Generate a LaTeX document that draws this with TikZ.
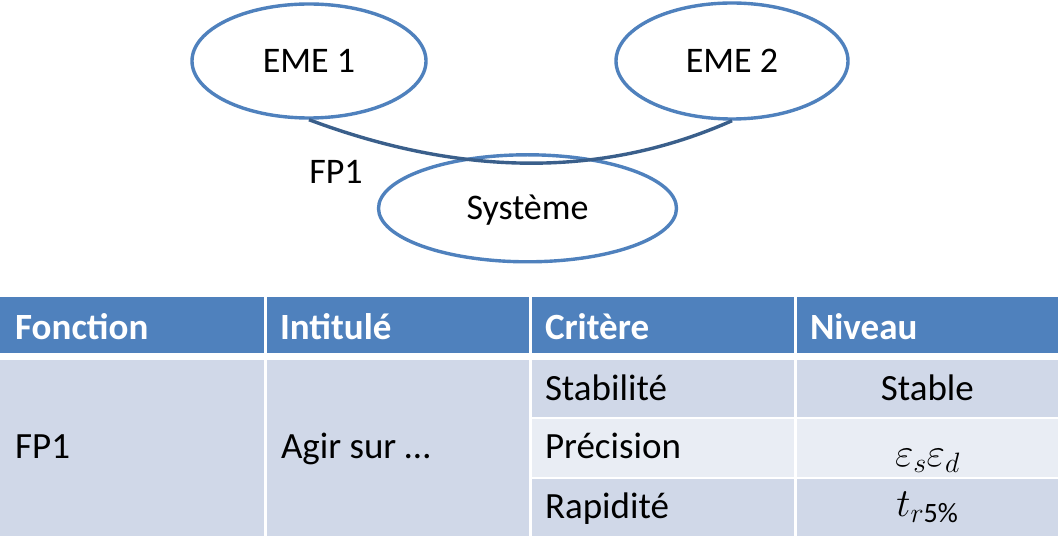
\RequirePackage{fix-cm}
\documentclass[tikz,border=0pt]{standalone}
\usepackage{fontspec}
\setmainfont{Carlito}
\usetikzlibrary{shapes.geometric}
\definecolor{ellblue}{HTML}{4F81BD}
\definecolor{linkblue}{HTML}{3A5F8B}
\definecolor{headblue}{HTML}{4F81BD}
\definecolor{bodyblue}{HTML}{D0D8E8}
\definecolor{lightblue}{HTML}{E9EDF4}
\tikzset{
  ell/.style={ellipse, draw=ellblue, line width=3.4pt, inner sep=0pt, fill=none,
    font=\fontsize{36}{43}\selectfont, text height=23.2pt, text depth=0pt},
  link/.style={draw=linkblue, line width=3.4pt},
  lbl/.style={font=\fontsize{36}{43}\selectfont, inner sep=0pt},
  head/.style={font=\fontsize{37}{44}\selectfont\bfseries, text=white, inner sep=0pt, anchor=base west},
  body/.style={font=\fontsize{37}{44}\selectfont, text=black, inner sep=0pt, anchor=base west},
  bodyc/.style={font=\fontsize{37}{44}\selectfont, text=black, inner sep=0pt, anchor=base},
  mathc/.style={font=\fontsize{40}{48}\selectfont, text=black, inner sep=0pt, anchor=base},
}
\begin{document}
\begin{tikzpicture}[x=1pt,y=-1pt]
\useasboundingbox (0,0) rectangle (1060,553);
\fill[white] (0,0) rectangle (1060,553);
% ellipses
\node[ell, minimum width=234pt, minimum height=114pt] (e1) at (309,61) {EME 1};
\node[ell, minimum width=232pt, minimum height=116pt] (e2) at (732,61) {EME 2};
\node[ell, minimum width=298pt, minimum height=107pt] (sys) at (527.5,208.3) {Système};
% connector
\draw[link] (e1.south) .. controls (462,177) and (603,178) .. (e2.south);
\node[lbl, anchor=base] (fp1lbl) at (336,183.3) {FP1};
% table cells
\fill[headblue] (0,297.3) rectangle (264.3,353.3);
\fill[headblue] (266.8,297.3) rectangle (529.3,353.3);
\fill[headblue] (531.8,297.3) rectangle (794.3,353.3);
\fill[headblue] (796.8,297.3) rectangle (1058,353.3);
\fill[bodyblue] (0,360) rectangle (264.3,536);
\fill[bodyblue] (266.8,360) rectangle (529.3,536);
\fill[bodyblue] (531.8,360) rectangle (794.3,416.5);
\fill[bodyblue] (796.8,360) rectangle (1058,416.5);
\fill[lightblue] (531.8,418.5) rectangle (794.3,476.5);
\fill[lightblue] (796.8,418.5) rectangle (1058,476.5);
\fill[bodyblue] (531.8,478.5) rectangle (794.3,536);
\fill[bodyblue] (796.8,478.5) rectangle (1058,536);
% header texts
\node[head] (h1) at (15,339.3) {Fonction};
\node[head] (h2) at (279.8,339.3) {Intitulé};
\node[head] (h3) at (544.8,339.3) {Critère};
\node[head] (h4) at (809.8,339.3) {Niveau};
% body texts
\node[body] (fp1) at (15,458.3) {FP1};
\node[body] (agir) at (280.8,458.3) {Agir sur …};
\node[body] (stab) at (544.8,400) {Stabilité};
\node[body] (prec) at (544.8,458.3) {Précision};
\node[body] (rapi) at (544.8,518.3) {Rapidité};
\node[bodyc] (stable) at (927.4,400) {Stable};
\node[mathc] (eps) at (927.4,466.7) {$\varepsilon_s\varepsilon_d$};
\node[mathc] (tr) at (927.4,516.7) {$t_{r\mathrm{5\%}}$};
\end{tikzpicture}
\end{document}
